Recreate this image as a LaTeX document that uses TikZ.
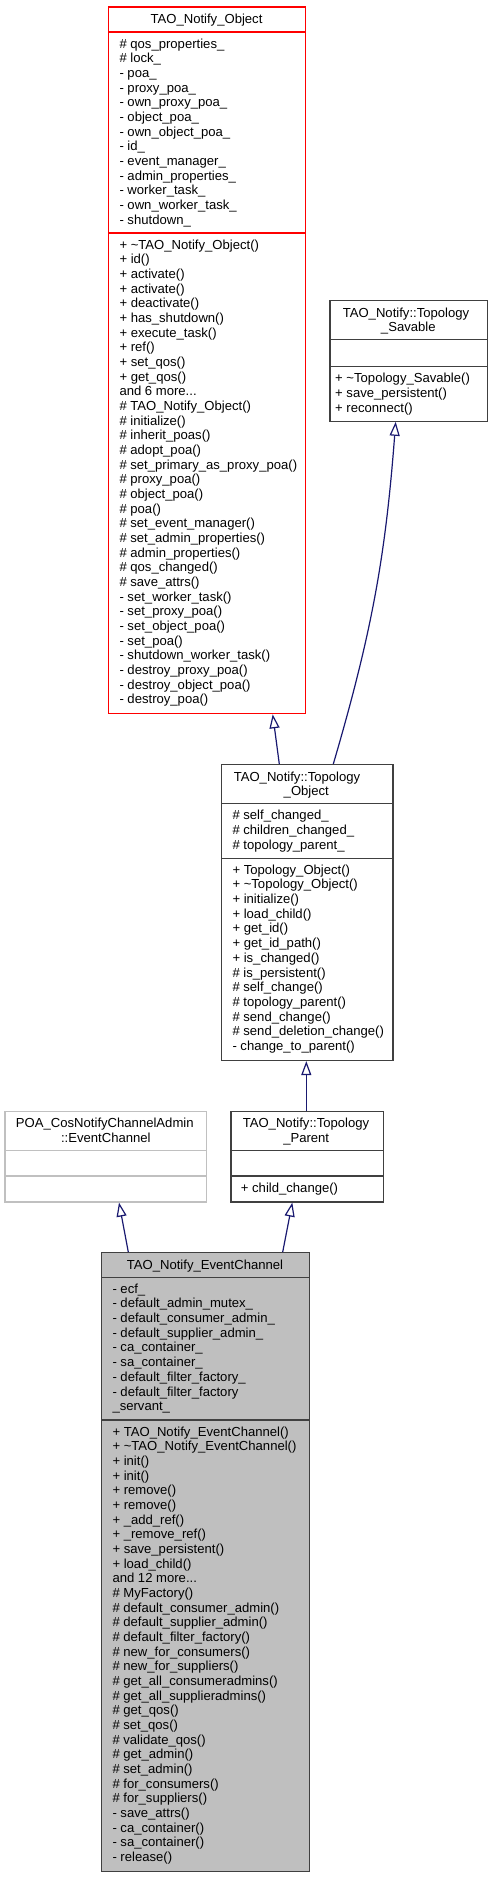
\documentclass[tikz,border=0pt]{standalone}
\usepackage{fontspec}
\setmainfont{Liberation Sans}
\usetikzlibrary{arrows.meta,calc}
\definecolor{edgeblue}{HTML}{191970}
\definecolor{boxgray}{HTML}{BFBFBF}
\definecolor{boxline}{HTML}{404040}
\definecolor{redline}{HTML}{FF0000}
\definecolor{poaline}{HTML}{C0C0C0}
\tikzset{
  classbox/.style={draw=boxline, line width=1.3pt, inner sep=0pt, anchor=north west, rectangle},
  txt/.style={anchor=base west, inner sep=0pt, font=\fontsize{13.1}{14.67}\selectfont},
  ttl/.style={anchor=base, inner sep=0pt, font=\fontsize{13.1}{14.67}\selectfont},
  inh/.style={draw=edgeblue, line width=1.2pt, -{Triangle[length=14pt,width=10pt,fill=white,line width=1.2pt]}},
}
\newcommand\mylines[4]{%
  \foreach \t [count=\i from 0] in {#4} {\node[txt] (#1-\i) at (#2,{#3+\i*14.67}) {\t};}}
\begin{document}
\begin{tikzpicture}[x=1pt,y=-1pt]
\useasboundingbox (0,0) rectangle (492,1877);
% ---------- TAO_Notify_Object ----------
\node[classbox, draw=redline, minimum width=197pt, minimum height=706.7pt] (obj) at (108,6.3) {};
\draw[redline, line width=1.3pt] (108,32) -- (305,32) (108,233) -- (305,233);
\node[ttl] (objt) at (206.5,23.3) {TAO\_Notify\_Object};
\mylines{oa}{119.3}{48}{\# qos\_properties\_,\# lock\_,- poa\_,- proxy\_poa\_,- own\_proxy\_poa\_,- object\_poa\_,- own\_object\_poa\_,- id\_,- event\_manager\_,- admin\_properties\_,- worker\_task\_,- own\_worker\_task\_,- shutdown\_}
\mylines{om}{119.3}{249}{+ \textasciitilde TAO\_Notify\_Object(),+ id(),+ activate(),+ activate(),+ deactivate(),+ has\_shutdown(),+ execute\_task(),+ ref(),+ set\_qos(),+ get\_qos(),and 6 more.{}.{}.,\# TAO\_Notify\_Object(),\# initialize(),\# inherit\_poas(),\# adopt\_poa(),\# set\_primary\_as\_proxy\_poa(),\# proxy\_poa(),\# object\_poa(),\# poa(),\# set\_event\_manager(),\# set\_admin\_properties(),\# admin\_properties(),\# qos\_changed(),\# save\_attrs(),- set\_worker\_task(),- set\_proxy\_poa(),- set\_object\_poa(),- set\_poa(),- shutdown\_worker\_task(),- destroy\_proxy\_poa(),- destroy\_object\_poa(),- destroy\_poa()}
% ---------- Topology_Savable ----------
\node[classbox, minimum width=157.4pt, minimum height=120.5pt] (sav) at (329.3,300) {};
\draw[boxline, line width=1.3pt] (329.3,339.7) -- (486.7,339.7) (329.3,366.7) -- (486.7,366.7);
\node[ttl] (savt1) at (406,317) {TAO\_Notify::Topology};
\node[ttl] (savt2) at (408.3,331.7) {\_Savable};
\mylines{sm}{335}{382.7}{+ \textasciitilde Topology\_Savable(),+ save\_persistent(),+ reconnect()}
% ---------- Topology_Object ----------
\node[classbox, minimum width=171.3pt, minimum height=295.8pt] (tobj) at (221,764) {};
\draw[boxline, line width=1.3pt] (221,803.7) -- (392.3,803.7) (221,858.3) -- (392.3,858.3);
\node[ttl] (tobjt1) at (297,781) {TAO\_Notify::Topology};
\node[ttl] (tobjt2) at (306.3,795.7) {\_Object};
\mylines{ta}{232.3}{819.7}{\# self\_changed\_,\# children\_changed\_,\# topology\_parent\_}
\mylines{tm}{232.3}{874.3}{+ Topology\_Object(),+ \textasciitilde Topology\_Object(),+ initialize(),+ load\_child(),+ get\_id(),+ get\_id\_path(),+ is\_changed(),\# is\_persistent(),\# self\_change(),\# topology\_parent(),\# send\_change(),\# send\_deletion\_change(),- change\_to\_parent()}
% ---------- POA_CosNotifyChannelAdmin::EventChannel ----------
\node[classbox, draw=poaline, minimum width=201.7pt, minimum height=90.6pt] (poa) at (4.3,1110.7) {};
\draw[poaline, line width=1.3pt] (4.3,1150.3) -- (206,1150.3) (4.3,1176) -- (206,1176);
\node[ttl] (poat1) at (104.8,1127.7) {POA\_CosNotifyChannelAdmin};
\node[ttl] (poat2) at (105.8,1142.4) {::EventChannel};
% ---------- Topology_Parent ----------
\node[classbox, minimum width=152.4pt, minimum height=90.6pt] (par) at (230.3,1110.7) {};
\draw[boxline, line width=1.3pt] (230.3,1150.3) -- (382.7,1150.3) (230.3,1176) -- (382.7,1176);
\node[ttl] (part1) at (306,1127.7) {TAO\_Notify::Topology};
\node[ttl] (part2) at (306.2,1142.4) {\_Parent};
\mylines{pm}{240.7}{1192}{+ child\_change()}
% ---------- TAO_Notify_EventChannel ----------
\node[classbox, fill=boxgray, minimum width=208pt, minimum height=619pt] (ec) at (101,1252) {};
\draw[boxline, line width=1.3pt] (101,1277.3) -- (309,1277.3) (101,1420) -- (309,1420);
\node[ttl] (ect) at (205,1269) {TAO\_Notify\_EventChannel};
\mylines{ea}{112.3}{1293.3}{- ecf\_,- default\_admin\_mutex\_,- default\_consumer\_admin\_,- default\_supplier\_admin\_,- ca\_container\_,- sa\_container\_,- default\_filter\_factory\_,- default\_filter\_factory,\_servant\_}
\mylines{em}{112.3}{1436}{+ TAO\_Notify\_EventChannel(),+ \textasciitilde TAO\_Notify\_EventChannel(),+ init(),+ init(),+ remove(),+ remove(),+ \_add\_ref(),+ \_remove\_ref(),+ save\_persistent(),+ load\_child(),and 12 more.{}.{}.,\# MyFactory(),\# default\_consumer\_admin(),\# default\_supplier\_admin(),\# default\_filter\_factory(),\# new\_for\_consumers(),\# new\_for\_suppliers(),\# get\_all\_consumeradmins(),\# get\_all\_supplieradmins(),\# get\_qos(),\# set\_qos(),\# validate\_qos(),\# get\_admin(),\# set\_admin(),\# for\_consumers(),\# for\_suppliers(),- save\_attrs(),- ca\_container(),- sa\_container(),- release()}
% ---------- inheritance connectors ----------
\draw[inh] ([xshift=58.3pt]tobj.north west) -- ([xshift=164.7pt]obj.south west);
\draw[inh] ([xshift=112.3pt]tobj.north west) to[bend right=6] ([xshift=66.4pt]sav.south west);
\draw[inh] ([xshift=76pt]par.north west) -- ([xshift=76pt]par.north west |- tobj.south);
\draw[inh] ([xshift=27.3pt]ec.north west) -- ([xshift=114.7pt]poa.south west);
\draw[inh] ([xshift=181.7pt]ec.north west) -- ([xshift=62pt]par.south west);
\end{tikzpicture}
\end{document}
